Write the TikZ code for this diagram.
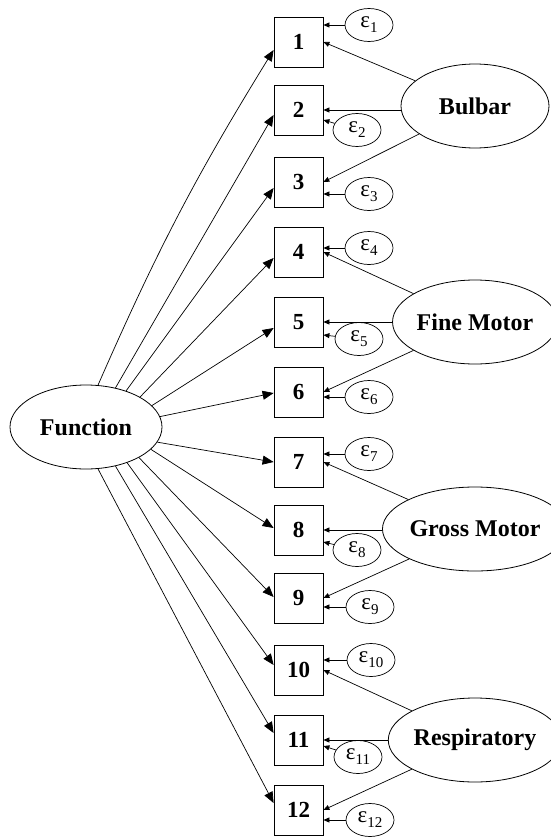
\documentclass[tikz,border=0pt]{standalone}
\usepackage{fontspec}
\setmainfont{Liberation Serif}
\usetikzlibrary{shapes.geometric, arrows.meta}

\newcommand{\errlab}[1]{\fontsize{23}{23}\selectfont ε\raisebox{-5pt}{\fontsize{15}{15}\selectfont #1}}

\begin{document}
\begin{tikzpicture}[x=1pt, y=-1pt,
    item/.style={rectangle, draw, line width=0.8pt, minimum width=49pt, minimum height=50pt, inner sep=0pt, font=\fontsize{23}{23}\selectfont\bfseries},
    latent/.style={ellipse, draw, line width=0.8pt, minimum width=148pt, minimum height=84pt, inner sep=0pt, font=\fontsize{24}{24}\selectfont\bfseries},
    err/.style={ellipse, draw, line width=0.7pt, minimum width=48pt, minimum height=33pt, inner sep=0pt},
    load/.style={-{Triangle[length=11pt, width=9pt]}, line width=0.7pt},
    errarrow/.style={-{Triangle[length=6pt, width=5pt]}, line width=0.7pt}
]
    \useasboundingbox (0,0) rectangle (550,838);

    % Latent factors
    \node[latent, minimum width=152pt] (fun) at (86,427) {Function};
    \node[latent] (bulbar) at (475,106) {Bulbar};
    \node[latent] (fine) at (475,322) {Fine Motor};
    \node[latent] (gross) at (475,529) {Gross Motor};
    \node[latent] (resp) at (475,740) {Respiratory};

    % Items
    \foreach \i/\y in {1/42, 2/110, 3/182, 4/252, 5/322, 6/392, 7/462, 8/530, 9/598, 10/670, 11/740, 12/810}
        \node[item] (b\i) at (298.5,\y) {\i};

    % Error terms
    \foreach \i/\x/\y in {1/369/25, 2/357/130, 3/369/194, 4/369/248, 5/359/339, 6/369/397,
                          7/369/454, 8/357/550, 9/370/607, 10/371/660, 11/358/757, 12/370/820}
        \node[err] (e\i) at (\x,\y) {\errlab{\i}};

    % Function loadings
    \draw[load] (fun.74) to[bend left=4] ([yshift=-8pt]b1.west);
    \foreach \i/\a/\d in {2/53/-5, 3/42/-6, 4/29/-6, 5/18/-6, 6/8/-1, 7/-12/0,
                          8/-19/2, 9/-30/1, 10/-41/5, 11/-53/7, 12/-74/7}
        \draw[load] (fun.\a) -- ([yshift=\d pt]b\i.west);

    % Specific factor loadings
    \foreach \f/\a/\b/\c in {bulbar/1/2/3, fine/4/5/6, gross/7/8/9, resp/10/11/12} {
        \draw[errarrow] (\f) -- (b\a.east);
        \draw[errarrow] (b\b.east -| \f.west) -- (b\b.east);
        \draw[errarrow] (\f) -- (b\c.east);
    }

    % Error arrows
    \foreach \i in {1, 3, 4, 6, 7, 9, 10, 12}
        \draw[errarrow] (e\i) -- (e\i -| b\i.east);
    \foreach \i/\d in {2/-10, 5/-13, 8/-12, 11/-6}
        \draw[errarrow] (e\i) -- ([yshift=\d pt]b\i.east);
\end{tikzpicture}
\end{document}
